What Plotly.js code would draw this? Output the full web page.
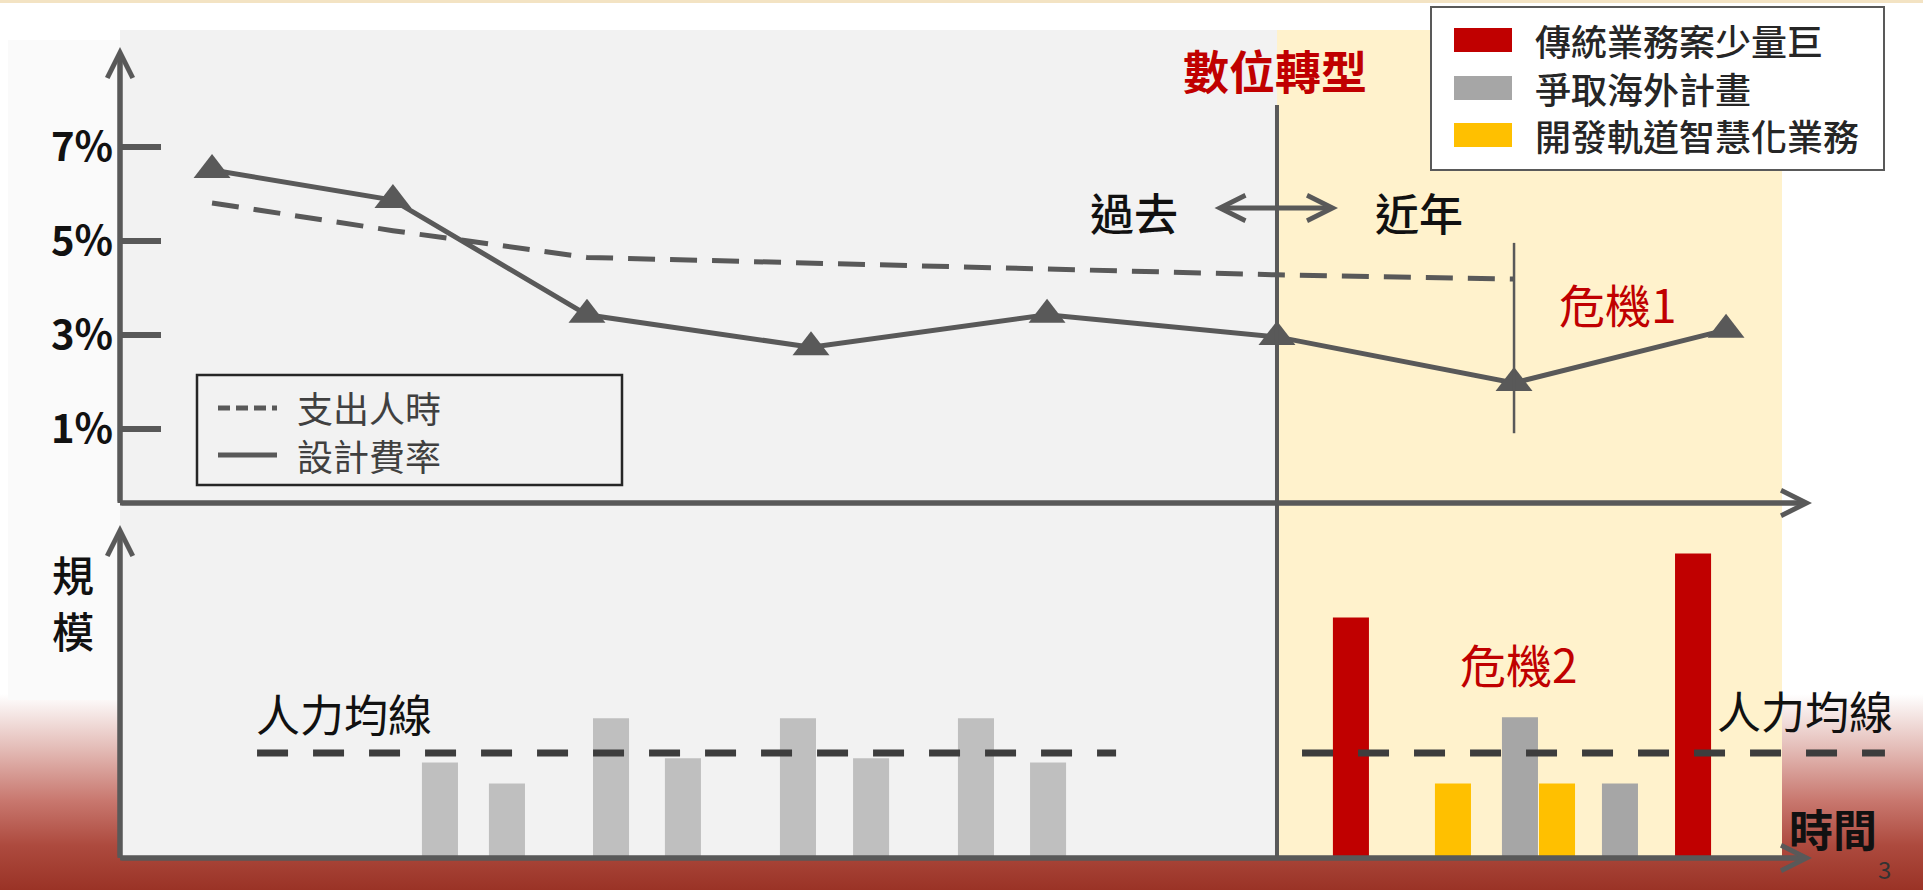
<!DOCTYPE html>
<html>
<head>
<meta charset="utf-8">
<script src="https://cdn.plot.ly/plotly-3.0.1.min.js"></script>
<style>
html,body{margin:0;padding:0;background:#ffffff;}
#chart{width:1923px;height:890px;
background:linear-gradient(to bottom,#ffffff 0%,#ffffff 78%,#e4bdb8 84%,#c8776e 90%,#ad4a3e 95%,#9a3326 100%);}
</style>
</head>
<body>
<div id="chart"></div>
<script>
// ---------------- data ----------------
// upper panel: time positions (0-100 along the time axis) and rates in %
const ratePeriods      = [5.44, 16.13, 27.60, 40.84, 54.79, 68.38, 82.39, 94.92];
const designFeeRate    = [6.51, 5.87, 3.43, 2.74, 3.43, 2.96, 1.98, 3.11];
const laborHourPeriods = [5.44, 16.13, 27.60, 40.84, 54.79, 68.38, 82.39];
const laborHoursRate   = [5.81, 5.22, 4.65, 4.53, 4.42, 4.28, 4.19];
const pctTickVals = [1, 3, 5, 7];
const pctTickText = ['1%', '3%', '5%', '7%'];
const lineNames = ['支出人時', '設計費率'];

// lower panel: project scale (manpower average = 100)
const pastPeriods        = [18.91, 22.87, 29.02, 33.27, 40.07, 44.39, 50.59, 54.85];
const pastScale          = [91, 71, 133, 95, 133, 95, 133, 91];
const traditionalPeriods = [72.75, 92.97];
const traditionalScale   = [229, 290];
const overseasPeriods    = [82.74, 88.65];
const overseasScale      = [134, 71];
const smartRailPeriods   = [78.78, 84.93];
const smartRailScale     = [71, 71];
const barNames = ['傳統業務案少量巨', '爭取海外計畫', '開發軌道智慧化業務'];

const manpowerAverage    = 100;
const manpowerPastSpan   = [8.10, 58.87];
const manpowerRecentSpan = [69.86, 104.31];
const transformPeriod    = 68.38;
const crisis1Period      = 82.39;
const crisis1Range       = [0.91, 4.96];

// ---------------- layout helpers ----------------
const W = 1923, H = 890;
const px = v => v / W;
const py = v => 1 - v / H;
const UNIT = 16.92;          // px per time unit
const X0 = 120;              // time axis origin (px)
const xRange = [0, (W - X0) / UNIT];
const FONT = "'Noto Sans CJK TC','Noto Sans',sans-serif";
const AXC = '#595959';
const RED = '#c00000';

const barWidth = 2.13;

const traces = [
  {type:'bar', x: pastPeriods, y: pastScale, xaxis:'x2', yaxis:'y2', width: barWidth,
   marker:{color:'#bfbfbf'}, name:'過去專案', showlegend:false},
  {type:'bar', x: traditionalPeriods, y: traditionalScale, xaxis:'x2', yaxis:'y2', width: barWidth,
   marker:{color:RED}, name: barNames[0], showlegend:false},
  {type:'bar', x: overseasPeriods, y: overseasScale, xaxis:'x2', yaxis:'y2', width: barWidth,
   marker:{color:'#a6a6a6'}, name: barNames[1], showlegend:false},
  {type:'bar', x: smartRailPeriods, y: smartRailScale, xaxis:'x2', yaxis:'y2', width: barWidth,
   marker:{color:'#ffc000'}, name: barNames[2], showlegend:false},
  {type:'scatter', mode:'lines', name:'人力均線', xaxis:'x2', yaxis:'y2', showlegend:false,
   x: [manpowerPastSpan[0], manpowerPastSpan[1], null, manpowerRecentSpan[0], manpowerRecentSpan[1]],
   y: [manpowerAverage, manpowerAverage, null, manpowerAverage, manpowerAverage],
   line:{color:'#3d3d3d', width:7, dash:'31px,25px'}},
  {type:'scatter', mode:'lines', name: lineNames[0], x: laborHourPeriods, y: laborHoursRate,
   line:{color:AXC, width:5, dash:'27px,15px'}, showlegend:false},
  {type:'scatter', mode:'lines+markers', name: lineNames[1], x: ratePeriods, y: designFeeRate,
   line:{color:AXC, width:5}, marker:{symbol:'triangle-up', size:32, color:AXC}, showlegend:false}
];

function arrowAnn(tx, ty, hx, hy, both) {
  return {xref:'paper', yref:'paper', x: px(hx), y: py(hy), ax: tx - hx, ay: ty - hy,
    axref:'pixel', ayref:'pixel', text:'', showarrow:true,
    arrowhead:5, arrowsize:1, arrowwidth:5, arrowcolor:AXC,
    arrowside: both ? 'end+start' : 'end', startarrowhead:5, startarrowsize:1,
    standoff:0, startstandoff:0};
}
function txt(text, x, y, size, color, opts, weight) {
  return Object.assign({xref:'paper', yref:'paper', x: px(x), y: py(y), text: text,
    showarrow:false, xanchor:'center', yanchor:'middle',
    font:{family:FONT, size:size, color:color, weight: weight || 'normal'}}, opts || {});
}
function rect(x0, y0, x1, y1, fill, line, layer) {
  return {type:'rect', xref:'paper', yref:'paper', x0:px(x0), x1:px(x1), y0:py(y1), y1:py(y0),
    fillcolor: fill, line: line || {width:0}, layer: layer || 'below'};
}
function pline(x0, y0, x1, y1, color, width, dash) {
  return {type:'line', xref:'paper', yref:'paper', x0:px(x0), x1:px(x1), y0:py(y0), y1:py(y1),
    line:{color:color, width:width, dash: dash || 'solid'}, layer:'above'};
}

const shapes = [
  rect(0, 0, W, 3, '#f3e3c3'),
  rect(8, 40, 120, 700, '#fafafa'),
  rect(120, 30, 1277, 858, '#f2f2f2'),
  rect(1277, 30, 1782, 858, '#fff2cc'),
  // axis lines
  pline(120, 503, 120, 56, AXC, 5),
  pline(120, 503, 1803, 503, AXC, 5),
  pline(120, 858, 120, 534, AXC, 5),
  pline(120, 858, 1803, 858, AXC, 5),
  // digital transformation divider
  {type:'line', xref:'x', yref:'paper', x0: transformPeriod, x1: transformPeriod,
   y0: py(858), y1: py(105), line:{color:AXC, width:4}, layer:'above'},
  // crisis 1 marker
  {type:'line', xref:'x', yref:'y', x0: crisis1Period, x1: crisis1Period,
   y0: crisis1Range[0], y1: crisis1Range[1], line:{color:AXC, width:2.5}, layer:'above'},
  // line legend box
  rect(197, 375, 622, 485, 'rgba(0,0,0,0)', {color:'#262626', width:2.5}, 'above'),
  pline(218, 408, 277, 408, '#595959', 5, '12px,6px'),
  pline(218, 455, 277, 455, '#595959', 5),
  // bar legend box
  rect(1431, 7, 1884, 170, '#ffffff', {color:'#595959', width:2}, 'above'),
  rect(1454, 28, 1512, 52, RED, null, 'above'),
  rect(1454, 76, 1512, 100, '#a6a6a6', null, 'above'),
  rect(1454, 123, 1512, 147, '#ffc000', null, 'above')
];

const annotations = [
  arrowAnn(120, 503, 120, 47),
  arrowAnn(120, 503, 1812, 503),
  arrowAnn(120, 858, 120, 525),
  arrowAnn(120, 858, 1812, 858),
  arrowAnn(1213, 208, 1338, 208, true),
  txt('數位轉型', 1275, 69, 46, RED, null, 'bold'),
  txt('過去', 1134, 212, 44, '#111111', null, 500),
  txt('近年', 1419, 212, 44, '#111111', null, 500),
  txt('危機1', 1618, 303, 46, RED),
  txt(lineNames[0], 295, 407, 36, '#404040', {xanchor:'left'}),
  txt(lineNames[1], 295, 455, 36, '#404040', {xanchor:'left'}),
  txt(barNames[0], 1533, 40, 36, '#262626', {xanchor:'left'}, 500),
  txt(barNames[1], 1533, 88, 36, '#262626', {xanchor:'left'}, 500),
  txt(barNames[2], 1533, 135, 36, '#262626', {xanchor:'left'}, 500),
  txt('規', 73, 573, 42, '#111111', null, 500),
  txt('模', 73, 629, 42, '#111111', null, 500),
  txt('人力均線', 344, 713, 44, '#111111'),
  txt('人力均線', 1805, 710, 44, '#111111'),
  txt('危機2', 1519, 663, 46, RED),
  txt('時間', 1833, 828, 44, '#111111', null, 'bold'),
  txt('3', 1884, 868, 24, '#333333')
];

const layout = {
  width: W, height: H, autosize:false,
  margin:{l:0, r:0, t:0, b:0, pad:0},
  paper_bgcolor:'rgba(0,0,0,0)', plot_bgcolor:'rgba(0,0,0,0)',
  showlegend:false,
  font:{family:FONT},
  xaxis:{domain:[px(X0), 1], range:xRange, visible:false, anchor:'y'},
  yaxis:{domain:[py(503), py(47)], range:[7 - (503 - 147) / 47, 7 + (147 - 47) / 47],
    anchor:'x', showgrid:false, zeroline:false, showline:false,
    ticks:'inside', ticklen:41, tickwidth:6, tickcolor:AXC,
    tickvals:pctTickVals, ticktext:pctTickText, ticklabelstandoff:6, automargin:false,
    tickfont:{family:FONT, size:40, color:'#111111', weight:'bold'}},
  xaxis2:{domain:[px(X0), 1], range:xRange, visible:false, anchor:'y2'},
  yaxis2:{domain:[py(858), py(525)], range:[0, (858 - 525) / 1.05], visible:false, anchor:'x2'},
  shapes: shapes,
  annotations: annotations
};

Plotly.newPlot('chart', traces, layout, {staticPlot:true, displayModeBar:false});
</script>
</body>
</html>
